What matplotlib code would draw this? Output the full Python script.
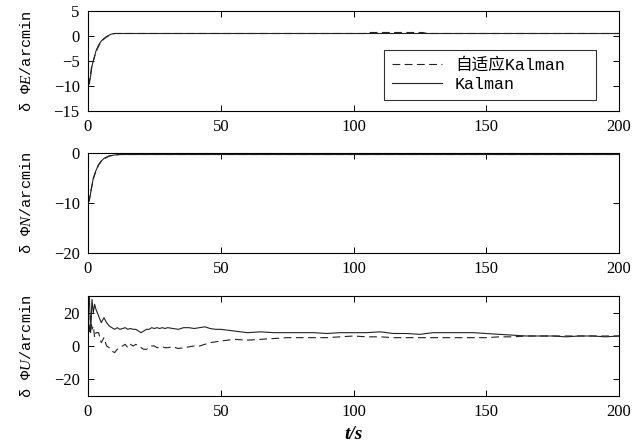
import matplotlib
matplotlib.use('Agg')
from matplotlib import pyplot as plt

# East error (arcmin)
t_e = [0, 0.5, 1, 1.5, 2, 3, 4, 5, 6, 7, 8, 9, 10, 12, 200]
e_kal = [-10, -9.5, -8, -6, -5, -3, -1.8, -1, -0.5, -0.1, 0.2, 0.4, 0.5, 0.5, 0.5]
t_e_ad = [0, 0.5, 1, 1.5, 2, 3, 4, 5, 6, 7, 8, 9, 10, 12, 104, 106, 126, 128, 200]
e_ad = [-10, -9, -7.5, -5.5, -5, -3.2, -2, -1.2, -0.6, -0.2, 0.1, 0.3, 0.5, 0.5, 0.5, 0.7, 0.7, 0.5, 0.5]

# North error
t_n = [0, 0.5, 1, 2, 3, 4, 5, 6, 7, 8, 10, 12, 200]
n_kal = [-10, -9.5, -8, -5, -3.5, -2.3, -1.6, -1.1, -0.8, -0.6, -0.4, -0.3, -0.3]
n_ad = [-10, -9.3, -7.8, -5.2, -3.6, -2.4, -1.7, -1.2, -0.9, -0.6, -0.4, -0.3, -0.3]

# Up error
t_u = [0, 0.5, 1, 1.5, 2, 2.5, 3, 4, 5, 6, 7, 8, 9, 10, 11, 12, 13, 14, 15, 16,
       17, 18, 19, 20, 21, 22, 23, 24, 25, 26, 27, 28, 29, 30, 32, 34, 36, 38, 40,
       42, 44, 46, 48, 50, 55, 60, 65, 70, 75, 80, 85, 90, 95, 100, 105, 110, 115,
       120, 125, 130, 135, 140, 145, 150, 155, 160, 165, 170, 175, 180, 185, 190, 195, 200]
u_kal = [22, 30, 8, 28, 20, 25, 22, 18, 14, 17, 14, 12, 11, 10, 11, 10, 10.5, 11, 10, 10.5,
         10, 10, 9, 8, 9, 10, 10, 11, 10.5, 11, 10.5, 11, 10.5, 11, 10.5, 10, 11, 11, 10.5,
         11, 11.5, 10.5, 10, 10, 9, 8, 8.5, 8, 8, 8, 8, 7.5, 8, 8, 8, 8.5, 7.5,
         7.5, 7, 8, 8, 8, 8, 7.5, 7, 6.5, 6, 6, 6, 5.5, 6, 6, 5.5, 6]
u_ad = [15, 8, 18, 10, 12, 5, 8, 8, 2, 5, 0, -1, -3, -4, -2, -1, 0, 1, -1, 1,
        0, 1, 0, -1, -2, -2, -1, 0, 0, -1, -1, -0.5, -1, -1, -0.5, -1.5, -1, -0.5, 0,
        0, 1, 2, 2.5, 3, 4, 3.5, 4, 4.5, 5, 5, 5, 5, 5.5, 6, 5.5, 5.5, 5,
        5, 5, 5, 5, 5, 5, 5, 5.5, 5.5, 6, 6, 6, 6, 6, 6, 6, 6]

plt.rcParams['mathtext.fontset'] = 'custom'
plt.rcParams['mathtext.it'] = 'Liberation Serif:italic'
plt.rcParams['mathtext.rm'] = 'Liberation Serif'

serif = ['Liberation Serif', 'DejaVu Serif']
mono = ['Liberation Mono', 'Noto Sans CJK SC']

fig = plt.figure(figsize=(6.33, 4.48), dpi=100)
L, W = 88 / 633, (619 - 88) / 633
boxes = [(11, 111), (153, 253), (296, 396)]
axs = [fig.add_axes([L, 1 - b / 448, W, (b - t) / 448]) for t, b in boxes]

dash = dict(color='#222222', lw=0.8, linestyle=(0, (7, 4)))
solid = dict(color='#222222', lw=0.8)

ylab = dict(fontsize=11, family=mono, labelpad=14)

ax = axs[0]
ax.plot(t_e_ad, e_ad, label='自适应Kalman', **dash)
ax.plot(t_e, e_kal, label='Kalman', **solid)
ax.set_ylim(-15, 5)
ax.set_yticks([5, 0, -5, -10, -15])
ax.set_ylabel('δ Φ$E$/arcmin', **ylab)
leg = ax.legend(loc='lower left', bbox_to_anchor=(0.542, 0.03, 0.43, 0.58), mode='expand',
                prop={'family': mono, 'size': 12}, frameon=True, fancybox=False,
                edgecolor='black', handlelength=3.0, borderpad=0.45, labelspacing=0.25)
leg.get_frame().set_linewidth(0.8)

ax = axs[1]
ax.plot(t_n, n_ad, **dash)
ax.plot(t_n, n_kal, **solid)
ax.set_ylim(-20, 0)
ax.set_yticks([0, -10, -20])
ax.set_ylabel('δ Φ$N$/arcmin', **ylab)

ax = axs[2]
ax.plot(t_u, u_ad, **dash)
ax.plot(t_u, u_kal, **solid)
ax.set_ylim(-30, 30)
ax.set_yticks([20, 0, -20])
ax.set_ylabel('δ Φ$U$/arcmin', **ylab)
ax.set_xlabel('t/s', fontsize=14, family=serif, fontweight='bold', fontstyle='italic', labelpad=4)

for ax in axs:
    ax.set_xlim(0, 200)
    ax.set_xticks([0, 50, 100, 150, 200])
    ax.tick_params(direction='in', top=True, right=True, labelsize=12, length=4, width=0.7, pad=6)
    for lab in ax.get_xticklabels() + ax.get_yticklabels():
        lab.set_family(serif)
    for s in ax.spines.values():
        s.set_linewidth(0.8)

fig.savefig('out.png', dpi=100)
